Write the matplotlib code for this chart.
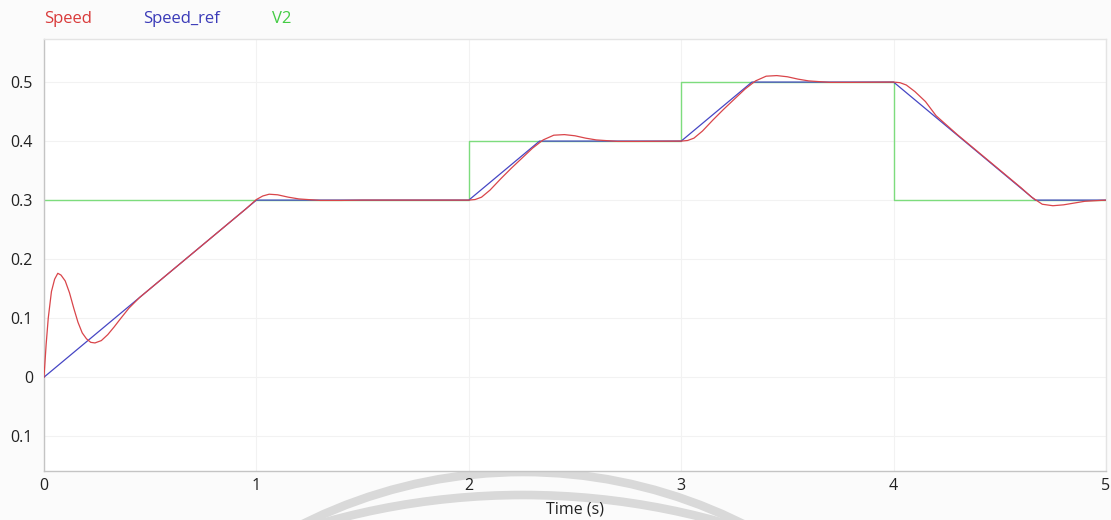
import matplotlib
matplotlib.use("Agg")
import matplotlib.pyplot as plt
from matplotlib.patches import Arc
from matplotlib.transforms import IdentityTransform

# Reference speed profile (piecewise linear ramps)
ref_t = [0.0, 1.0, 2.0, 2.333, 3.0, 3.333, 4.0, 4.667, 5.0]
ref_v = [0.0, 0.3, 0.3, 0.4, 0.4, 0.5, 0.5, 0.3, 0.3]

# Setpoint V2 (step signal)
v2_t = [0.0, 2.0, 2.0, 3.0, 3.0, 4.0, 4.0, 5.0]
v2_v = [0.3, 0.3, 0.4, 0.4, 0.5, 0.5, 0.3, 0.3]

# Measured speed
speed_t = [0.0, 0.01, 0.02, 0.035, 0.05, 0.065, 0.08, 0.10, 0.12, 0.14,
           0.16, 0.18, 0.20, 0.22, 0.24, 0.27, 0.30, 0.33, 0.36, 0.40,
           0.45, 0.50, 0.60, 0.70, 0.80, 0.90, 0.95, 1.00, 1.03, 1.06,
           1.10, 1.15, 1.20, 1.30, 1.40, 1.50, 2.00, 2.03, 2.06, 2.10,
           2.15, 2.20, 2.25, 2.30, 2.35, 2.40, 2.45, 2.50, 2.55, 2.60,
           2.70, 2.80, 3.00, 3.03, 3.06, 3.10, 3.15, 3.20, 3.25, 3.30,
           3.35, 3.40, 3.45, 3.50, 3.55, 3.60, 3.70, 3.80, 4.00, 4.03,
           4.06, 4.10, 4.15, 4.20, 4.30, 4.40, 4.50, 4.60, 4.65, 4.70,
           4.75, 4.80, 4.85, 4.90, 5.00]
speed_v = [0.000, 0.055, 0.100, 0.145, 0.166, 0.176, 0.173, 0.163, 0.143, 0.117,
           0.093, 0.075, 0.065, 0.059, 0.058, 0.062, 0.072, 0.085, 0.099, 0.117,
           0.135, 0.150, 0.180, 0.210, 0.240, 0.270, 0.285, 0.301, 0.307, 0.310,
           0.309, 0.305, 0.302, 0.2995, 0.2995, 0.300, 0.300, 0.301, 0.305, 0.317,
           0.336, 0.354, 0.371, 0.388, 0.402, 0.410, 0.411, 0.409, 0.405, 0.402,
           0.3995, 0.3995, 0.400, 0.401, 0.405, 0.417, 0.436, 0.454, 0.471, 0.488,
           0.502, 0.510, 0.511, 0.509, 0.505, 0.502, 0.4995, 0.4995, 0.500, 0.499,
           0.495, 0.484, 0.467, 0.443, 0.411, 0.381, 0.351, 0.321, 0.305, 0.293,
           0.2905, 0.292, 0.295, 0.298, 0.300]

y_ticks = [-0.1, 0.0, 0.1, 0.2, 0.3, 0.4, 0.5]
y_tick_labels = ["0.1", "0", "0.1", "0.2", "0.3", "0.4", "0.5"]
x_ticks = [0, 1, 2, 3, 4, 5]

plt.rcParams["font.family"] = ["Open Sans", "DejaVu Sans"]

W, H = 1111, 520
fig = plt.figure(figsize=(W / 100, H / 100), dpi=100, facecolor="#fbfbfb")
ax = fig.add_axes([44 / W, 1 - 471 / H, (1106 - 44) / W, (471 - 39) / H])
ax.set_facecolor("white")

ax.plot(v2_t, v2_v, color="#7ddc7d", lw=1.0, zorder=2)
ax.plot(ref_t, ref_v, color="#4646c4", lw=0.9, zorder=3)
ax.plot(speed_t, speed_v, color="#d9454a", lw=0.9, zorder=4)

ax.set_xlim(0, 5)
ax.set_ylim(-0.159, 0.573)
ax.set_xticks(x_ticks)
ax.set_xticklabels([str(t) for t in x_ticks])
ax.set_yticks(y_ticks)
ax.set_yticklabels(y_tick_labels)
ax.tick_params(length=0, labelsize=11.5, colors="#222222")
ax.tick_params(axis="y", pad=8)
ax.tick_params(axis="x", pad=5)
ax.grid(True, color="#f2f2f2", lw=0.8)
ax.set_axisbelow(True)
for side in ["left", "bottom"]:
    ax.spines[side].set_color("#c4c4c4")
    ax.spines[side].set_linewidth(1.0)
for side in ["top", "right"]:
    ax.spines[side].set_color("#e4e4e4")
    ax.spines[side].set_linewidth(1.0)

ax.set_xlabel("Time (s)", fontsize=11.5, color="#222222", labelpad=5.5)

# Signal names along the top
names = ["Speed", "Speed_ref", "V2"]
name_colors = ["#d93a3a", "#3a3ab8", "#44cc44"]
name_x = [44, 143, 272]
for n, c, x in zip(names, name_colors, name_x):
    fig.text(x / W, 1 - 19 / H, n, color=c, fontsize=12, ha="left", va="center")

# Faint circular emblem along the bottom edge
emblem = [
    ((523, H - 964), 2 * 492, 2 * 492),
    ((523, H - 1229), 2 * 734, 2 * 734),
]
for center, w, h in emblem:
    fig.add_artist(Arc(center, w, h, theta1=0, theta2=180,
                       transform=IdentityTransform(), color="#d9d9d9",
                       lw=6.2, zorder=0))

fig.savefig("out.png", dpi=100, facecolor=fig.get_facecolor())
